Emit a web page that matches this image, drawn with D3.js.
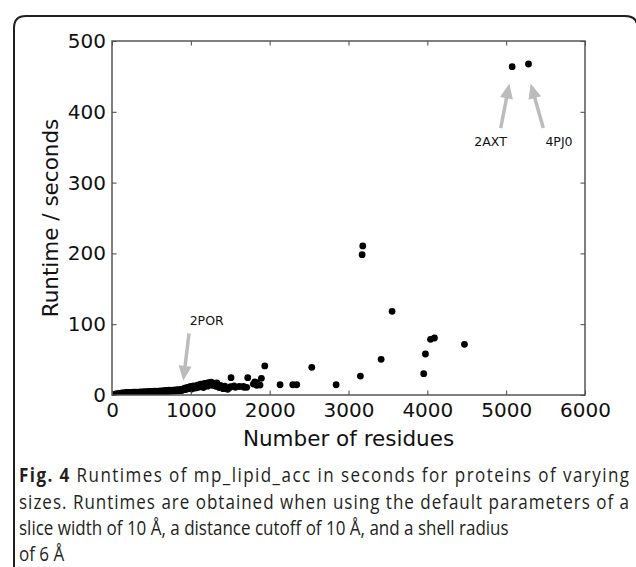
<!DOCTYPE html>
<html>
<head>
    <title>Runtimes of mp_lipid_acc</title>
    <script src="https://cdn.jsdelivr.net/npm/d3@7/dist/d3.min.js"></script>
    <style>body { margin: 0; background: #fff; }</style>
</head>
<body>
    <svg width="636" height="567" id="mainsvg" style="display: block;"></svg>
    <script>
        // number of residues / runtime in seconds
        const residues = [
            30, 42, 50, 60, 75, 85, 95, 102, 110, 118, 125, 132, 140, 148, 155, 162, 170, 178, 185, 192, 200, 208, 215,
            224, 232, 240, 248, 255, 262, 270, 280, 288, 296, 305, 312, 320, 330, 338, 345, 355, 365, 372, 380,
            390, 398, 408, 418, 425, 435, 445, 455, 465, 475, 485, 495, 505, 515, 525, 538, 548, 560, 572, 585,
            598, 610, 622, 635, 648, 660, 672, 685, 698, 710, 722, 735, 748, 760, 772, 785, 798, 810, 822, 835,
            848, 860, 872, 885, 898, 910, 922, 935, 948, 960, 972, 985, 998, 1010, 1022, 1035, 1048, 1060, 1072, 1085,
            1098, 1110, 1122, 1135, 1148, 1160, 1172, 1185, 1198, 1210, 1222, 1235, 1248, 1260, 1272, 1285, 1294, 1306, 1318, 1330,
            1345, 1360, 1375, 1392, 1410, 1430, 1447, 1468, 1490, 1505, 1510, 1548, 1566, 1616, 1667, 1675, 1709, 1722, 1793, 1811,
            1836, 1836, 1878, 1895, 1938, 2132, 2293, 2343, 2534, 2843, 3151, 3173, 3181, 3414, 3553, 3954, 3976, 4040, 4090, 4471,
            5076, 5283
        ];
        const runtimes = [
            0.3, 0.8, 1.5, 0.4, 2.0, 0.8, 2.4, 1.0, 0.7, 2.6, 0.9, 2.8, 1.1, 0.8, 3.0, 1.3, 3.2, 1.0, 3.4, 1.4, 3.5, 1.7, 1.2,
            3.6, 2.8, 1.5, 3.8, 3.1, 1.8, 3.9, 3.2, 2.0, 4.0, 3.4, 2.2, 4.1, 3.7, 2.4, 4.2, 2.8, 4.3, 2.5, 3.5,
            4.5, 2.9, 3.6, 4.6, 3.1, 3.8, 4.8, 3.3, 4.0, 5.0, 3.5, 4.2, 5.2, 3.8, 4.5, 5.4, 4.0, 4.7, 5.6, 4.2,
            5.0, 5.9, 4.4, 5.2, 6.2, 4.6, 5.5, 6.4, 4.9, 5.8, 6.7, 5.1, 6.1, 7.0, 5.4, 6.4, 7.3, 5.6, 6.7, 7.6,
            6.0, 7.0, 8.0, 6.3, 7.4, 8.5, 9.5, 7.8, 10.5, 8.8, 11.2, 9.2, 12.0, 8.5, 11.5, 13.0, 9.8, 12.5, 10.2, 14.0,
            11.0, 13.5, 15.5, 12.0, 14.8, 10.5, 16.5, 13.2, 15.8, 12.5, 17.5, 14.2, 16.8, 18.2, 13.8, 15.5, 16.5, 15.3, 12.2, 17.0,
            14.0, 10.5, 13.5, 11.8, 9.0, 12.5, 9.4, 8.0, 10.2, 11.8, 24.4, 12.7, 10.9, 12.0, 12.0, 10.9, 10.9, 24.4, 15.5, 18.4,
            17.4, 13.7, 14.0, 23.6, 41.0, 14.5, 14.5, 14.5, 39.1, 14.5, 26.8, 198.2, 210.5, 50.4, 118.2, 30.1, 57.9, 78.7, 80.5, 71.6,
            463.7, 467.5
        ];

        const xTicks = [0, 1000, 2000, 3000, 4000, 5000, 6000];
        const yTicks = [0, 100, 200, 300, 400, 500];

        // annotations: label, label anchor, arrow start, arrow tip (data units)
        const annLabels = ['2POR', '2AXT', '4PJ0'];
        const annText = [[1201, 99], [4802, 351], [5670, 351]];
        const annFrom = [[977, 87], [4931, 377], [5471, 377]];
        const annTo = [[904, 20], [5040, 440], [5311, 440]];

        const captionRest = [
            ' Runtimes of mp_lipid_acc in seconds for proteins of varying',
            'sizes. Runtimes are obtained when using the default parameters of a',
            'slice width of 10 \u00c5, a distance cutoff of 10 \u00c5, and a shell radius',
            'of 6 \u00c5'
        ];

        const svg = d3.select('svg');
        const pLeft = 112, pRight = 585, pTop = 41, pBottom = 395;

        const x = d3.scaleLinear().domain([0, 6000]).range([pLeft, pRight]);
        const y = d3.scaleLinear().domain([0, 500]).range([pBottom, pTop]);

        // outer frame (right side runs just past the picture edge)
        svg.append('path')
            .attr('d', 'M14,580 L14,28 Q14,16 26,16 L625,16 Q637.5,16 637.5,28 L637.5,580')
            .attr('fill', 'none')
            .attr('stroke', '#231f20')
            .attr('stroke-width', 2);

        svg.append('clipPath').attr('id', 'plotclip')
            .append('rect')
            .attr('x', pLeft).attr('y', pTop)
            .attr('width', pRight - pLeft).attr('height', pBottom - pTop);

        const pts = residues.map((r, i) => ({ r: r, t: runtimes[i] }));
        svg.append('g').attr('clip-path', 'url(#plotclip)')
            .selectAll('circle').data(pts).join('circle')
            .attr('cx', d => x(d.r))
            .attr('cy', d => y(d.t))
            .attr('r', 3.4)
            .attr('fill', '#000');

        // arrows
        const arrowCol = '#bcbcbc';
        annLabels.forEach((lab, i) => {
            const x0 = x(annFrom[i][0]), y0 = y(annFrom[i][1]);
            const x1 = x(annTo[i][0]), y1 = y(annTo[i][1]);
            const len = Math.hypot(x1 - x0, y1 - y0);
            const ux = (x1 - x0) / len, uy = (y1 - y0) / len;
            const hl = 15, hw = 6.5;
            const bx = x1 - ux * hl, by = y1 - uy * hl;
            svg.append('line')
                .attr('x1', x0).attr('y1', y0)
                .attr('x2', bx + ux).attr('y2', by + uy)
                .attr('stroke', arrowCol)
                .attr('stroke-width', 3.5);
            svg.append('polygon')
                .attr('points', [[x1, y1], [bx - uy * hw, by + ux * hw], [bx + uy * hw, by - ux * hw]].join(' '))
                .attr('fill', arrowCol);
            svg.append('text')
                .attr('x', x(annText[i][0]))
                .attr('y', y(annText[i][1]))
                .attr('text-anchor', 'middle')
                .attr('font-family', 'DejaVu Sans')
                .attr('font-size', 12.5)
                .attr('fill', '#111')
                .text(lab);
        });

        // axes with inward ticks on all four sides
        const tickFont = g => g.selectAll('text')
            .attr('font-family', 'DejaVu Sans')
            .attr('font-size', 20)
            .attr('fill', '#111');
        const tickLine = g => {
            g.select('.domain').remove();
            g.selectAll('line').attr('stroke', '#444').attr('stroke-width', 1);
        };

        svg.append('g').attr('transform', `translate(0,${pBottom})`)
            .call(d3.axisBottom(x).tickValues(xTicks).tickSize(-4.5).tickPadding(8).tickFormat(d3.format('d')))
            .call(tickLine).call(tickFont);
        svg.append('g').attr('transform', `translate(0,${pTop})`)
            .call(d3.axisTop(x).tickValues(xTicks).tickSize(-4.5).tickFormat(''))
            .call(tickLine);
        svg.append('g').attr('transform', `translate(${pLeft},0)`)
            .call(d3.axisLeft(y).tickValues(yTicks).tickSize(-4.5).tickPadding(6).tickFormat(d3.format('d')))
            .call(tickLine).call(tickFont);
        svg.append('g').attr('transform', `translate(${pRight},0)`)
            .call(d3.axisRight(y).tickValues(yTicks).tickSize(-4.5).tickFormat(''))
            .call(tickLine);

        svg.append('rect')
            .attr('x', pLeft).attr('y', pTop)
            .attr('width', pRight - pLeft).attr('height', pBottom - pTop)
            .attr('fill', 'none')
            .attr('stroke', '#555')
            .attr('stroke-width', 1.5);

        svg.append('text')
            .attr('x', (pLeft + pRight) / 2)
            .attr('y', 446)
            .attr('text-anchor', 'middle')
            .attr('font-family', 'DejaVu Sans')
            .attr('font-size', 21.5)
            .attr('fill', '#111')
            .text('Number of residues');

        svg.append('text')
            .attr('transform', 'translate(58,218) rotate(-90)')
            .attr('text-anchor', 'middle')
            .attr('font-family', 'DejaVu Sans')
            .attr('font-size', 21.5)
            .attr('fill', '#111')
            .text('Runtime / seconds');

        // caption: the original face is narrower, so every line is squeezed by the same
        // horizontal factor; the two justified lines get extra letter spacing
        const capBase = [482, 508.5, 535, 561];
        const capLines = captionRest.map((line, i) => {
            const t = svg.append('text')
                .attr('x', 0)
                .attr('y', 0)
                .attr('font-family', 'Open Sans, Noto Sans, sans-serif')
                .attr('font-size', 19.5)
                .attr('fill', '#231f20');
            if (i === 0) t.append('tspan').attr('font-weight', 'bold').text('Fig. 4');
            t.append('tspan').text(line);
            return t;
        });
        const natural = capLines.map(t => t.node().getComputedTextLength());
        const squeeze = 490 / natural[2];
        capLines.forEach((t, i) => {
            t.attr('transform', `translate(19,${capBase[i]}) scale(${squeeze},1)`);
            if (i < 2) t.attr('textLength', 610 / squeeze).attr('lengthAdjust', 'spacing');
        });
    </script>
</body>
</html>
